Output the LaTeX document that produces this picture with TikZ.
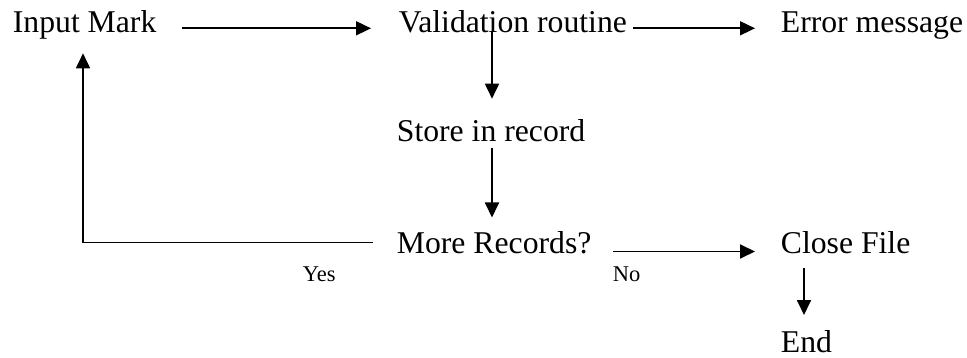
\documentclass[tikz,border=0pt]{standalone}
\usepackage{fontspec}
\setmainfont{Liberation Serif}
\usetikzlibrary{arrows.meta}

\begin{document}
\begin{tikzpicture}[x=1pt, y=-1pt, line width=1.8pt,
    >={Triangle[length=15pt,width=14pt]},
    lbl/.style={anchor=base west, inner sep=0pt, font=\fontsize{31.7}{38}\selectfont},
    tag/.style={anchor=base west, inner sep=0pt, font=\fontsize{22.5}{27}\selectfont}]
			\useasboundingbox (0,0) rectangle (967,358);
			% top row
			\node[lbl] (input) at (12,32.3) {Input Mark};
			\node[lbl] (valid) at (398,32.3) {Validation routine};
			\node[lbl] (error) at (780,32.3) {Error message};
			% middle
			\node[lbl] (store) at (396,141.7) {Store in record};
			% bottom row
			\node[lbl] (more) at (396,253.5) {More Records?};
			\node[lbl] (close) at (780,253.5) {Close File};
			\node[lbl] (stop) at (780,352) {End};
			% branch labels
			\node[tag] (yes) at (302,281.7) {Yes};
			\node[tag] (no) at (612,281) {No};
			% arrows
			\draw[->] ([xshift=25pt,yshift=4pt]input.base east) -- ([xshift=-27pt,yshift=4pt]valid.base west);
			\draw[->] ([xshift=5pt,yshift=4pt]valid.base east) -- ([xshift=-25pt,yshift=4pt]error.base west);
			\draw[->] ([xshift=94pt]valid.base west) -- ([xshift=96pt,yshift=43pt]store.base west);
			\draw[->] ([xshift=96pt,yshift=-6pt]store.base west) -- ([xshift=96pt,yshift=36pt]more.base west);
			% loop back
			\draw[->] ([xshift=-23pt,yshift=11pt]more.base west) -| ([xshift=71pt,yshift=-21pt]input.base west);
			\draw[->] ([xshift=21pt,yshift=2pt]more.base east) -- ([xshift=-25pt,yshift=2pt]close.base west);
			\draw[->] ([xshift=24pt,yshift=-15pt]close.base west) -- ([xshift=24pt,yshift=37pt]stop.base west);
		\end{tikzpicture}
\end{document}
